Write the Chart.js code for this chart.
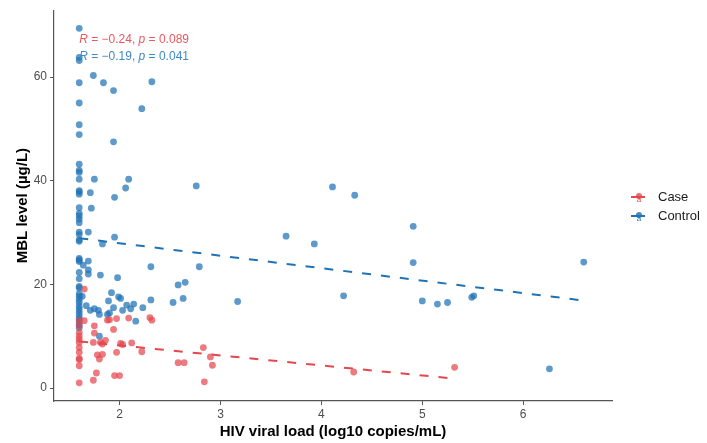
<!DOCTYPE html>
<html>
<head>
<meta charset="utf-8">
<script src="https://cdn.jsdelivr.net/npm/chart.js@4.4.0/dist/chart.umd.min.js"></script>
<style>
    body { margin: 0; background: #ffffff; }
    #chart-area { width: 707px; height: 443px; }
</style>
</head>
<body>
<div id="chart-area"><canvas id="myChart" width="707" height="443"></canvas></div>
<script>
// Case group (red)
var caseX = [1.6, 1.6, 1.6, 1.6, 1.6, 1.6, 1.6, 1.6, 1.6, 1.6, 1.6, 1.6,
    1.65, 1.65, 1.75, 1.88, 1.90, 1.97, 2.09, 2.30, 2.32, 1.94, 1.75, 1.74,
    1.81, 1.86, 1.83, 2.01, 2.03, 2.12, 2.22, 1.97, 1.78, 1.83, 1.80, 2.83,
    2.90, 2.92, 2.58, 2.64, 1.77, 1.74, 1.95, 2.00, 2.84, 4.32, 5.32];
var caseY = [13.0, 12.0, 10.7, 10.0, 9.4, 8.8, 7.8, 6.9, 5.7, 5.5, 4.3, 1.0,
    19.1, 13.0, 12.0, 13.1, 13.2, 13.4, 13.5, 13.6, 13.1, 11.3, 10.6, 8.8,
    8.8, 9.2, 8.5, 8.6, 8.4, 8.7, 7.0, 6.9, 6.4, 6.5, 5.6, 7.8,
    6.0, 4.4, 4.9, 4.9, 2.9, 1.5, 2.4, 2.4, 1.2, 3.1, 4.0];

// Control group (blue)
var controlX = [1.6, 1.6, 1.6, 1.6, 1.6, 1.6, 1.6, 1.6, 1.6, 1.6, 1.6, 1.6, 1.6, 1.6,
    1.6, 1.6, 1.6, 1.6, 1.6, 1.6, 1.6, 1.6, 1.6, 1.6, 1.6, 1.6, 1.6, 1.6,
    1.6, 1.6, 1.6, 1.6, 1.6, 1.6, 1.6, 1.6, 1.6, 1.6, 1.6, 1.6, 1.6, 1.6,
    1.74, 1.84, 1.94, 2.32, 2.22, 1.94, 1.75, 2.09, 2.76, 2.06, 1.71, 1.95,
    1.72, 1.69, 1.95, 1.83, 1.69, 1.64, 2.31, 1.69, 1.69, 1.81, 1.98, 1.63,
    2.58, 2.65, 2.79, 1.92, 1.99, 2.01, 1.89, 2.31, 2.63, 2.53, 3.17, 1.67,
    1.75, 1.79, 1.71, 1.80, 1.88, 1.90, 1.94, 2.07, 2.14, 2.11, 2.03, 2.23,
    2.16, 1.80, 4.11, 4.33, 3.65, 3.93, 4.91, 4.91, 6.60, 4.22, 5.00, 5.15,
    5.25, 5.49, 5.51, 6.26];
var controlY = [69.4, 63.8, 63.2, 58.9, 55.0, 50.8, 48.9, 43.2, 42.0, 41.6, 40.3, 38.1, 37.8, 37.4,
    34.8, 33.7, 33.2, 32.6, 31.9, 30.1, 29.6, 28.6, 28.3, 25.0, 24.7, 24.4, 22.3, 21.1,
    19.6, 19.3, 18.2, 17.7, 17.1, 16.5, 15.8, 15.2, 14.6, 14.0, 13.4, 12.8, 12.2, 11.6,
    60.3, 58.9, 57.4, 59.1, 53.9, 47.5, 40.3, 40.3, 39.0, 38.6, 37.7, 36.8,
    34.7, 30.1, 29.1, 27.8, 24.5, 23.7, 23.4, 22.8, 22.0, 21.8, 21.3, 17.7,
    19.9, 20.4, 23.4, 18.4, 17.6, 17.3, 16.8, 17.0, 17.3, 16.5, 16.7, 15.9,
    15.3, 15.0, 15.0, 14.2, 14.2, 14.5, 15.5, 16.0, 16.2, 15.3, 15.0, 15.5,
    12.9, 10.0, 38.8, 37.2, 29.3, 27.8, 31.2, 24.2, 24.3, 17.8, 16.8, 16.2,
    16.5, 17.5, 17.8, 3.7];

// Fitted regression lines (end points)
var caseFitX = [1.6, 5.32];
var caseFitY = [9.0, 1.8];
var controlFitX = [1.6, 6.63];
var controlFitY = [28.9, 16.8];

// Axis ticks
var xTicks = [2, 3, 4, 5, 6];
var yTicks = [0, 20, 40, 60];

// Correlation labels
var corrLabels = [
    { r: '\u22120.24', p: '0.089', color: '#e8585d', x: 1.6, y: 67.3 },
    { r: '\u22120.19', p: '0.041', color: '#3f8ac6', x: 1.6, y: 64.0 }
];
var legendNames = ['Case', 'Control'];

var caseColor = '#e4474d';
var controlColor = '#1f72b5';

function toPoints(xs, ys) {
    var pts = [];
    for (let i = 0; i < xs.length; i++) {
        pts.push({ x: xs[i], y: ys[i] });
    }
    return pts;
}

// Draws the R / p labels and the ggplot-like legend
var extrasPlugin = {
    id: 'extras',
    afterDraw: function(chart) {
        var ctx = chart.ctx;
        var xs = chart.scales.x;
        var ys = chart.scales.y;
        ctx.save();
        ctx.textBaseline = 'middle';
        ctx.textAlign = 'left';
        var plain = '12px "Liberation Sans", Arial, sans-serif';
        var ital = 'italic 12px "Liberation Sans", Arial, sans-serif';
        corrLabels.forEach(function(lab) {
            var px = xs.getPixelForValue(lab.x);
            var py = ys.getPixelForValue(lab.y);
            var parts = [[ital, 'R'], [plain, ' = ' + lab.r + ', '], [ital, 'p'], [plain, ' = ' + lab.p]];
            ctx.fillStyle = lab.color;
            parts.forEach(function(part) {
                ctx.font = part[0];
                ctx.fillText(part[1], px, py);
                px += ctx.measureText(part[1]).width;
            });
        });

        // legend
        var colors = [caseColor, controlColor];
        var lx = chart.chartArea.right + 26;
        var ly = 197;
        for (let i = 0; i < legendNames.length; i++) {
            var y = ly + i * 19;
            ctx.strokeStyle = colors[i];
            ctx.lineWidth = 2;
            ctx.setLineDash([]);
            ctx.beginPath();
            ctx.moveTo(lx - 7, y);
            ctx.lineTo(lx + 7, y);
            ctx.stroke();
            ctx.fillStyle = colors[i];
            ctx.globalAlpha = 0.8;
            ctx.beginPath();
            ctx.arc(lx + 1, y - 1, 3, 0, Math.PI * 2);
            ctx.fill();
            ctx.globalAlpha = 1;
            ctx.font = '8px "Liberation Sans", Arial, sans-serif';
            ctx.textAlign = 'center';
            ctx.fillText('a', lx + 1, y + 3);
            ctx.textAlign = 'left';
            ctx.fillStyle = '#1a1a1a';
            ctx.font = '13px "Liberation Sans", Arial, sans-serif';
            ctx.fillText(legendNames[i], lx + 20, y);
        }
        ctx.restore();
    }
};

var ctx = document.getElementById('myChart').getContext('2d');
new Chart(ctx, {
    type: 'scatter',
    data: {
        datasets: [
            {
                label: 'Case',
                data: toPoints(caseX, caseY),
                backgroundColor: 'rgba(228,71,77,0.72)',
                borderWidth: 0,
                pointRadius: 3.4
            },
            {
                label: 'Control',
                data: toPoints(controlX, controlY),
                backgroundColor: 'rgba(31,114,181,0.72)',
                borderWidth: 0,
                pointRadius: 3.4
            },
            {
                label: 'Case fit',
                type: 'line',
                data: toPoints(caseFitX, caseFitY),
                borderColor: caseColor,
                borderWidth: 2,
                borderDash: [9, 10],
                pointRadius: 0,
                fill: false
            },
            {
                label: 'Control fit',
                type: 'line',
                data: toPoints(controlFitX, controlFitY),
                borderColor: controlColor,
                borderWidth: 2,
                borderDash: [9, 10],
                pointRadius: 0,
                fill: false
            }
        ]
    },
    options: {
        responsive: false,
        animation: false,
        layout: {
            padding: { top: 9, right: 95, left: 0, bottom: 0 }
        },
        plugins: {
            legend: { display: false },
            tooltip: { enabled: false }
        },
        scales: {
            x: {
                type: 'linear',
                min: 1.35,
                max: 6.88,
                afterBuildTicks: function(axis) {
                    axis.ticks = xTicks.map(function(v) { return { value: v }; });
                },
                afterFit: function(axis) { axis.height = 42; },
                grid: { drawOnChartArea: false, color: '#555555', tickLength: 4 },
                border: { color: '#555555', width: 1.2 },
                ticks: {
                    color: '#4d4d4d',
                    font: { family: '"Liberation Sans", Arial, sans-serif', size: 12 },
                    padding: 2,
                    maxRotation: 0
                },
                title: {
                    display: true,
                    text: 'HIV viral load (log10 copies/mL)',
                    color: '#000000',
                    font: { family: '"Liberation Sans", Arial, sans-serif', size: 15, weight: 'bold' },
                    padding: { top: 2, bottom: 2 }
                }
            },
            y: {
                type: 'linear',
                min: -2.5,
                max: 72.9,
                afterBuildTicks: function(axis) {
                    axis.ticks = yTicks.map(function(v) { return { value: v }; });
                },
                afterFit: function(axis) { axis.width = 54; },
                grid: { drawOnChartArea: false, color: '#555555', tickLength: 4 },
                border: { color: '#555555', width: 1.2 },
                ticks: {
                    color: '#4d4d4d',
                    font: { family: '"Liberation Sans", Arial, sans-serif', size: 12 },
                    padding: 3
                },
                title: {
                    display: true,
                    text: 'MBL level (\u00b5g/L)',
                    color: '#000000',
                    font: { family: '"Liberation Sans", Arial, sans-serif', size: 15, weight: 'bold' },
                    padding: { top: 14, bottom: 4 }
                }
            }
        }
    },
    plugins: [extrasPlugin]
});
</script>
</body>
</html>
